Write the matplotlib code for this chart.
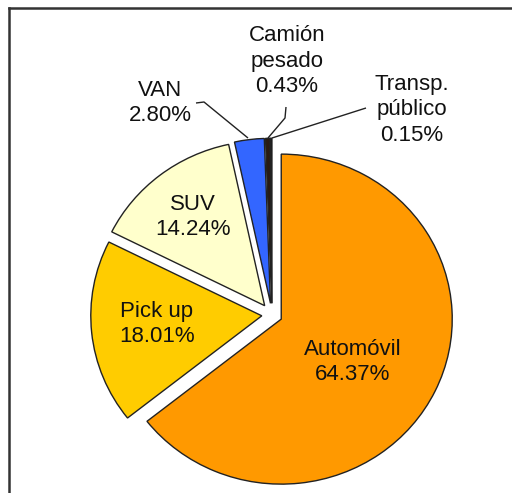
import matplotlib
matplotlib.use("Agg")
import matplotlib.pyplot as plt
from matplotlib.lines import Line2D

categories = ["Automóvil", "Pick up", "SUV", "VAN", "Camión\npesado", "Transp.\npúblico"]
values = [64.37, 18.01, 14.24, 2.80, 0.43, 0.15]
colors = ["#FF9900", "#FFCC00", "#FFFFCC", "#3366FF", "#2A1A12", "#000000"]
explode = [0.06, 0.06, 0.07, 0.07, 0.07, 0.07]

W, H = 512, 493
RX, RY = 171.0, 165.0
CX, CY = 272.0, 314.8

def px(x, y):
    return ((x - CX) / RX, (CY - y) / RY)

plt.rcParams['font.family'] = ['Liberation Sans', 'DejaVu Sans']
fig = plt.figure(figsize=(W / 100, H / 100), dpi=100)
ax = fig.add_axes([0, 0, 1, 1])
ax.axis('off')

wedges, _ = ax.pie(values, colors=colors, explode=explode, startangle=90,
                   counterclock=False, radius=1.0,
                   wedgeprops=dict(edgecolor='#222222', linewidth=1.0))
ax.set_xlim(-CX / RX, (W - CX) / RX)
ax.set_ylim(-(H - CY) / RY, CY / RY)
ax.set_aspect('auto')

fs = 16
labels = [f"{c}\n{v:.2f}%" for c, v in zip(categories, values)]
label_pos = [(353, 362), (157, 324), (193, 217), (160, 103), (287, 61), (412, 110)]
for lab, (x, y) in zip(labels, label_pos):
    tx, ty = px(x, y)
    ax.text(tx, ty, lab, ha='center', va='center', fontsize=fs, color='#111111',
            linespacing=1.27)

# leader lines
leaders = [
    [(196, 103), (204, 102), (248, 138)],
    [(286, 107), (285, 118), (268, 138)],
    [(366, 108), (272, 138)],
]
for pts in leaders:
    xs, ys = zip(*[px(a, b) for a, b in pts])
    ax.plot(xs, ys, color='#222222', lw=1.0, solid_capstyle='butt')

# frame (top and left)
fig.add_artist(Line2D([8.5 / W, 1.0], [1 - 7.5 / H, 1 - 7.5 / H], transform=fig.transFigure,
                      color='#333333', lw=1.8))
fig.add_artist(Line2D([8.5 / W, 8.5 / W], [0, 1 - 7.5 / H], transform=fig.transFigure,
                      color='#333333', lw=1.8))

fig.savefig("out.png", dpi=100, facecolor='white')
